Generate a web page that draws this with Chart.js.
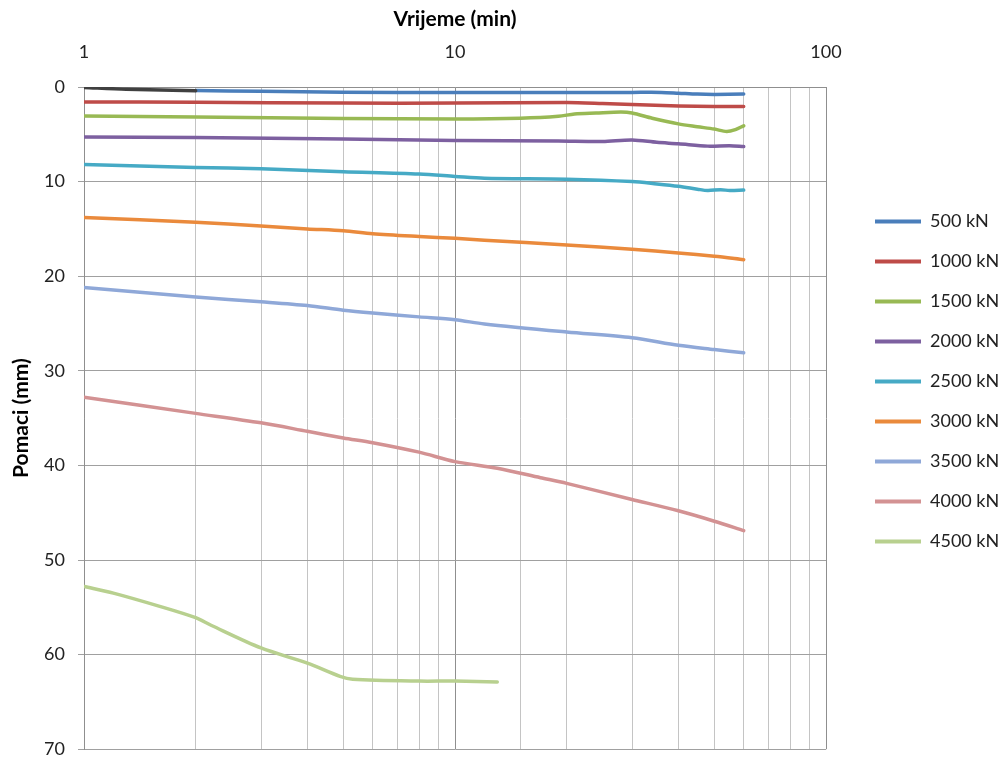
<!DOCTYPE html>
<html>
<head>
<meta charset="utf-8">
<script src="https://cdn.jsdelivr.net/npm/chart.js@4.4.1/dist/chart.umd.min.js"></script>
<style>
  html, body { margin: 0; padding: 0; background: #ffffff; }
  #wrap { width: 1002px; height: 773px; position: relative; }
</style>
</head>
<body>
<div id="wrap"><canvas id="chart"></canvas></div>
<script>
// Vrijeme (min) / pomaci (mm) po stupnjevima opterećenja
const t0 = [1, 1.3, 2];
const d0 = [0.05, 0.24, 0.4];

const t500 = [2, 3, 5, 10, 20, 30, 36, 40, 45, 50, 60];
const d500 = [0.38, 0.45, 0.55, 0.58, 0.58, 0.57, 0.57, 0.65, 0.75, 0.78, 0.75];

const t1000 = [1, 2, 5, 10, 20, 25, 30, 40, 50, 60];
const d1000 = [1.58, 1.62, 1.7, 1.7, 1.65, 1.75, 1.86, 2.0, 2.05, 2.07];

const t1500 = [1, 2, 5, 10, 15, 19, 21, 24, 28, 30, 34, 40, 45, 50, 54, 57, 60];
const d1500 = [3.07, 3.17, 3.33, 3.38, 3.3, 3.1, 2.85, 2.75, 2.65, 2.75, 3.3, 3.9, 4.2, 4.45, 4.7, 4.5, 4.1];

const t2000 = [1, 2, 5, 10, 19, 25, 30, 35, 40, 48, 55, 60];
const d2000 = [5.28, 5.35, 5.5, 5.65, 5.7, 5.75, 5.6, 5.85, 6.0, 6.25, 6.2, 6.3];

const t2500 = [1, 2, 3, 5, 8, 10, 12, 20, 30, 35, 40, 45, 48, 52, 55, 60];
const d2500 = [8.2, 8.5, 8.65, 8.95, 9.2, 9.45, 9.65, 9.75, 10.0, 10.25, 10.5, 10.8, 10.95, 10.85, 10.95, 10.9];

const t3000 = [1, 2, 3, 4, 5, 6, 8, 10, 12, 20, 30, 40, 50, 60];
const d3000 = [13.8, 14.3, 14.7, 15.0, 15.2, 15.5, 15.8, 16.0, 16.2, 16.7, 17.15, 17.55, 17.9, 18.25];

const t3500 = [1, 2, 3, 4, 5, 6, 8, 10, 12, 20, 30, 40, 50, 60];
const d3500 = [21.2, 22.2, 22.7, 23.1, 23.6, 23.9, 24.3, 24.6, 25.05, 25.9, 26.5, 27.3, 27.75, 28.1];

const t4000 = [1, 2, 3, 4, 5, 6, 8, 10, 13, 17, 20, 30, 40, 50, 60];
const d4000 = [32.8, 34.5, 35.5, 36.4, 37.1, 37.6, 38.6, 39.6, 40.3, 41.3, 41.9, 43.6, 44.8, 45.9, 46.9];

const t4500 = [1, 1.2, 1.6, 2, 2.2, 3, 4, 4.9, 5.3, 8, 10, 13];
const d4500 = [52.8, 53.5, 54.9, 56.1, 56.9, 59.3, 60.9, 62.3, 62.6, 62.8, 62.8, 62.9];

const loads = ["", "500 kN", "1000 kN", "1500 kN", "2000 kN", "2500 kN", "3000 kN", "3500 kN", "4000 kN", "4500 kN"];
const times = [t0, t500, t1000, t1500, t2000, t2500, t3000, t3500, t4000, t4500];
const disps = [d0, d500, d1000, d1500, d2000, d2500, d3000, d3500, d4000, d4500];
const colors = ["#404040", "#4a7ebb", "#be4b48", "#98b954", "#7d60a0", "#46aac5", "#ea8a3c", "#8fa8d8", "#d39293", "#b8d08f"];

const yTicks = [0, 10, 20, 30, 40, 50, 60, 70];

const FONT = "Lato, 'Open Sans', sans-serif";

// legenda: fiksna širina i pomak udesno
const legendPlacer = {
  id: "legendPlacer",
  beforeLayout(chart) {
    const lg = chart.legend;
    if (lg && !lg._patched) {
      const fit = lg.fit;
      lg.fit = function () { fit.call(this); this.width = 176; };
      lg._patched = true;
    }
  },
  afterLayout(chart) {
    if (chart.legend) chart.legend.left += 27;
  }
};

const datasets = loads.map((name, i) => ({
  label: name,
  data: times[i].map((t, k) => ({ x: t, y: disps[i][k] })),
  borderColor: colors[i],
  backgroundColor: colors[i],
  borderWidth: 3.5,
  pointRadius: 0,
  tension: 0.3,
  borderCapStyle: "round",
  borderJoinStyle: "round",
}));

new Chart(document.getElementById("chart"), {
  type: "line",
  data: { datasets },
  plugins: [legendPlacer],
  options: {
    responsive: true,
    maintainAspectRatio: false,
    animation: false,
    layout: { padding: { top: 0, left: 0, right: 0, bottom: 10 } },
    plugins: {
      tooltip: { enabled: false },
      legend: {
        position: "right",
        align: "center",
        labels: {
          boxWidth: 46,
          boxHeight: 4,
          padding: 22,
          color: "#222222",
          font: { family: FONT, size: 18 },
          filter: item => item.text !== "",
          generateLabels(chart) {
            return Chart.defaults.plugins.legend.labels.generateLabels(chart)
              .map(l => ({ ...l, lineWidth: 0 }));
          },
        },
      },
    },
    scales: {
      x: {
        type: "logarithmic",
        position: "top",
        min: 1,
        max: 100,
        afterFit(scale) { scale.height = 87; },
        title: {
          display: true,
          text: "Vrijeme (min)",
          color: "#000000",
          font: { family: FONT, size: 21, weight: "bold" },
          padding: { top: 7, bottom: 0 },
        },
        ticks: {
          autoSkip: false,
          maxRotation: 0,
          padding: 24,
          color: "#222222",
          font: { family: FONT, size: 18 },
          callback: v => (Math.abs(Math.log10(v) - Math.round(Math.log10(v))) < 1e-9 ? String(v) : ""),
        },
        grid: {
          drawTicks: false,
          color: ctx => {
            const v = ctx.tick ? ctx.tick.value : 0;
            return Math.abs(Math.log10(v) - Math.round(Math.log10(v))) < 1e-9 ? "#8f8f8f" : "#c4c4c4";
          },
          lineWidth: 1,
        },
        border: { color: "#8f8f8f" },
      },
      y: {
        reverse: true,
        min: 0,
        max: 70,
        afterFit(scale) { scale.width = 84; },
        afterBuildTicks(scale) { scale.ticks = yTicks.map(v => ({ value: v })); },
        title: {
          display: true,
          text: "Pomaci (mm)",
          color: "#000000",
          font: { family: FONT, size: 21, weight: "bold" },
          padding: { top: 9, bottom: 0 },
        },
        ticks: {
          padding: 13,
          color: "#222222",
          font: { family: FONT, size: 18 },
        },
        grid: { color: "#a0a0a0", tickLength: 6, lineWidth: 1 },
        border: { color: "#8f8f8f" },
      },
    },
  },
});
</script>
</body>
</html>
